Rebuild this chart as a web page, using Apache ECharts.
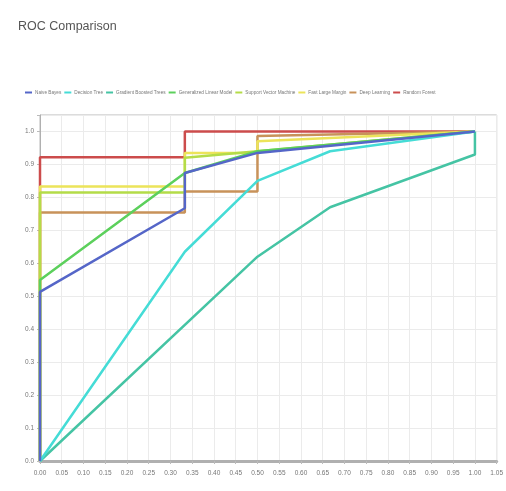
<!DOCTYPE html>
<html>
<head>
<meta charset="utf-8">
<script src="https://cdn.jsdelivr.net/npm/echarts@6/dist/echarts.min.js"></script>
<style>
html,body{margin:0;padding:0;background:#fff;}
#chart{width:506px;height:491px;}
</style>
</head>
<body>
<div id="chart"></div>
<script>
const seriesNames = ["Naive Bayes","Decision Tree","Gradient Boosted Trees","Generalized Linear Model","Support Vector Machine","Fast Large Margin","Deep Learning","Random Forest"];
const seriesColors = ["#5566c8","#45dcd6","#45c4a4","#5cd05c","#b4dc48","#ece45a","#c8925a","#cc4c4c"];

const nbFpr  = [0, 0, 0.333, 0.333, 0.5, 1];
const nbTpr  = [0, 0.513, 0.767, 0.874, 0.935, 1];
const dtFpr  = [0, 0.333, 0.5, 0.667, 1];
const dtTpr  = [0, 0.635, 0.85, 0.94, 1];
const gbtFpr = [0, 0.5, 0.667, 1, 1];
const gbtTpr = [0, 0.62, 0.77, 0.93, 1];
const glmFpr = [0, 0, 0.333, 0.5, 1];
const glmTpr = [0, 0.549, 0.874, 0.94, 1];
const svmFpr = [0, 0, 0.333, 0.333, 0.5, 1];
const svmTpr = [0, 0.815, 0.815, 0.92, 0.94, 1];
const flmFpr = [0, 0, 0.333, 0.333, 0.5, 0.5, 1];
const flmTpr = [0, 0.833, 0.833, 0.935, 0.935, 0.97, 1];
const dlFpr  = [0, 0, 0.333, 0.333, 0.5, 0.5, 1];
const dlTpr  = [0, 0.754, 0.754, 0.818, 0.818, 0.986, 1];
const rfFpr  = [0, 0, 0.333, 0.333, 1];
const rfTpr  = [0, 0.922, 0.922, 1, 1];

const fprs = [nbFpr, dtFpr, gbtFpr, glmFpr, svmFpr, flmFpr, dlFpr, rfFpr];
const tprs = [nbTpr, dtTpr, gbtTpr, glmTpr, svmTpr, flmTpr, dlTpr, rfTpr];

const xTickLabels = ["0.00","0.05","0.10","0.15","0.20","0.25","0.30","0.35","0.40","0.45","0.50","0.55","0.60","0.65","0.70","0.75","0.80","0.85","0.90","0.95","1.00","1.05"];
const yTickLabels = ["0.0","0.1","0.2","0.3","0.4","0.5","0.6","0.7","0.8","0.9","1.0"];

const FONT = '"Liberation Sans", Arial, sans-serif';

const chart = echarts.init(document.getElementById('chart'), null, {renderer:'canvas'});
const series = seriesNames.map((n, i) => ({
  name: n,
  type: 'line',
  data: fprs[i].map((x, j) => [x, tprs[i][j]]),
  showSymbol: false,
  symbol: 'none',
  lineStyle: {width: 2.5, color: seriesColors[i]},
  itemStyle: {color: seriesColors[i]},
  animation: false,
  z: 12 - i
}));

chart.setOption({
  animation: false,
  backgroundColor: '#fff',
  title: {
    text: 'ROC Comparison',
    left: 13, top: 15,
    textStyle: {fontFamily: FONT, fontSize: 12.5, fontWeight: 'normal', color: '#555'}
  },
  legend: {
    data: seriesNames,
    left: 20, top: 85,
    icon: 'rect',
    itemWidth: 7, itemHeight: 2,
    itemGap: 3,
    textStyle: {fontFamily: FONT, fontSize: 4.7, color: '#777', padding: [0,0,0,-2]}
  },
  grid: {
    left: 40, top: 115, right: 6, bottom: 30,
    show: true, borderColor: '#b8b8b8', borderWidth: 1, containLabel: false
  },
  xAxis: {
    type: 'value', min: 0, max: 1.05, interval: 0.05,
    axisLine: {show: true, onZero: false, lineStyle: {color: '#b0b0b0', width: 3}},
    axisTick: {show: true, length: 3, lineStyle: {color: '#bbb'}},
    axisLabel: {
      fontFamily: FONT, fontSize: 6.5, color: '#777', margin: 9,
      formatter: v => { const k = Math.round(v / 0.05); return xTickLabels[k] !== undefined ? xTickLabels[k] : ''; }
    },
    splitLine: {show: true, lineStyle: {color: '#ebebeb', width: 1}}
  },
  yAxis: {
    type: 'value', min: 0, max: 1.05, interval: 0.1,
    axisLine: {show: true, lineStyle: {color: '#b0b0b0', width: 1}},
    axisTick: {show: true, length: 3, lineStyle: {color: '#bbb'}},
    axisLabel: {
      fontFamily: FONT, fontSize: 6.5, color: '#777', margin: 6,
      formatter: v => { const k = Math.round(v * 10); return (Math.abs(v - k / 10) < 1e-6 && yTickLabels[k] !== undefined) ? yTickLabels[k] : ''; }
    },
    splitLine: {show: true, lineStyle: {color: '#ebebeb', width: 1}}
  },
  series: series
});
</script>
</body>
</html>
